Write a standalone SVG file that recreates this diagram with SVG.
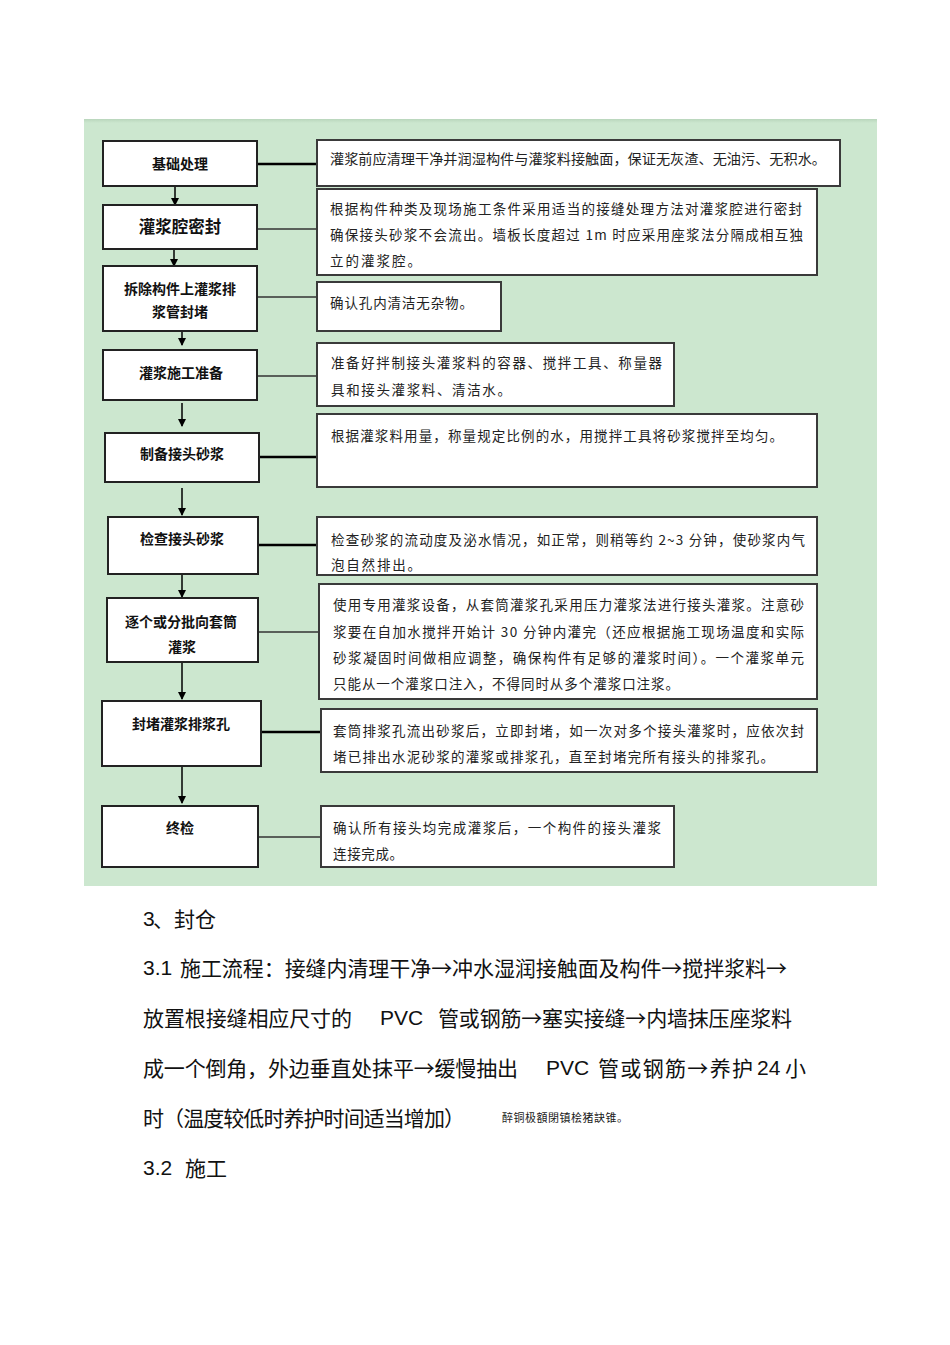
<svg xmlns="http://www.w3.org/2000/svg" width="950" height="1345" viewBox="0 0 950 1345">
<defs>
<marker id="ah" markerWidth="8" markerHeight="8" refX="7" refY="4" orient="auto" markerUnits="userSpaceOnUse">
<path d="M0,0 L8,4 L0,8 Z" fill="#000"/>
</marker>
<linearGradient id="topband" x1="0" y1="0" x2="0" y2="1">
<stop offset="0" stop-color="#b9d6bc"/>
<stop offset="1" stop-color="#cce7cf"/>
</linearGradient>
<style>
.lb{fill:#fff;stroke:#222;stroke-width:2}
.rb{fill:#fff;stroke:#3a3a3a;stroke-width:2}
.lt{font-family:"Noto Sans CJK SC","Noto Sans",sans-serif;font-weight:bold;font-size:14px;fill:#111;text-anchor:middle;dominant-baseline:central}
.rt{font-family:"Noto Sans CJK SC","Noto Sans",sans-serif;font-size:13.5px;fill:#222;dominant-baseline:central}
.thick{stroke:#000;stroke-width:2.5;fill:none}
.thin{stroke:#333;stroke-width:1.3;fill:none}
.arr{stroke:#000;stroke-width:1.5;fill:none;marker-end:url(#ah)}
.bc{font-family:"Noto Sans CJK SC",sans-serif;font-size:21px;fill:#111;dominant-baseline:central}
.bl{font-family:"Liberation Sans","Noto Sans",sans-serif;font-size:21px;fill:#111;dominant-baseline:central}
.sm{font-family:"Noto Sans CJK SC",sans-serif;font-size:11px;fill:#1a1a1a;dominant-baseline:central}
</style>
</defs>
<rect x="84" y="119" width="793" height="767" fill="#cce7cf"/>
<rect x="84" y="119" width="793" height="4" fill="url(#topband)"/>

<g id="connectors">
<line class="thick" x1="257" y1="164" x2="317" y2="164"/>
<line class="thin" x1="257" y1="229" x2="317" y2="229"/>
<line class="thin" x1="257" y1="297" x2="317" y2="297"/>
<line class="thin" x1="257" y1="376" x2="317" y2="376"/>
<line class="thick" x1="259" y1="457" x2="317" y2="457"/>
<line class="thick" x1="258" y1="545" x2="317" y2="545"/>
<line class="thin" x1="258" y1="632" x2="319" y2="632"/>
<line class="thick" x1="261" y1="732" x2="321" y2="732"/>
<line class="thin" x1="258" y1="837" x2="321" y2="837"/>
<line class="arr" x1="175" y1="186" x2="175" y2="205"/>
<line class="arr" x1="174" y1="249" x2="174" y2="266"/>
<line class="arr" x1="182" y1="331" x2="182" y2="345"/>
<line class="arr" x1="182" y1="403" x2="182" y2="426"/>
<line class="arr" x1="182" y1="488" x2="182" y2="515"/>
<line class="arr" x1="182" y1="574" x2="182" y2="597"/>
<line class="arr" x1="182" y1="662" x2="182" y2="699"/>
<line class="arr" x1="182" y1="766" x2="182" y2="803"/>
</g>

<g id="n1"><rect class="lb" x="103" y="141" width="154" height="45"/><text class="lt" x="180" y="163">基础处理</text></g>
<g id="n2"><rect class="lb" x="103" y="205" width="154" height="44"/><text class="lt" x="180" y="226" style="font-size:16.5px">灌浆腔密封</text></g>
<g id="n3"><rect class="lb" x="103" y="266" width="154" height="65"/><text class="lt" x="180" y="288">拆除构件上灌浆排</text><text class="lt" x="180" y="311">浆管封堵</text></g>
<g id="n4"><rect class="lb" x="103" y="350" width="154" height="50"/><text class="lt" x="181" y="372">灌浆施工准备</text></g>
<g id="n5"><rect class="lb" x="105" y="433" width="154" height="49"/><text class="lt" x="182" y="453">制备接头砂浆</text></g>
<g id="n6"><rect class="lb" x="108" y="517" width="150" height="57"/><text class="lt" x="182" y="538">检查接头砂浆</text></g>
<g id="n7"><rect class="lb" x="107" y="598" width="151" height="64"/><text class="lt" x="181" y="621">逐个或分批向套筒</text><text class="lt" x="182" y="646">灌浆</text></g>
<g id="n8"><rect class="lb" x="102" y="701" width="159" height="65"/><text class="lt" x="181" y="723">封堵灌浆排浆孔</text></g>
<g id="n9"><rect class="lb" x="102" y="806" width="156" height="61"/><text class="lt" x="180" y="827">终检</text></g>

<g id="r1"><rect class="rb" x="317" y="140" width="523" height="46"/>
<text class="rt" x="330" y="158" textLength="496" lengthAdjust="spacingAndGlyphs">灌浆前应清理干净并润湿构件与灌浆料接触面，保证无灰渣、无油污、无积水。</text></g>
<g id="r2"><rect class="rb" x="317" y="189" width="500" height="86"/>
<text class="rt" x="330" y="208" textLength="472">根据构件种类及现场施工条件采用适当的接缝处理方法对灌浆腔进行密封</text>
<text class="rt" x="330" y="234" textLength="473">确保接头砂浆不会流出。墙板长度超过 1m 时应采用座浆法分隔成相互独</text>
<text class="rt" x="330" y="260" textLength="91">立的灌浆腔。</text></g>
<g id="r3"><rect class="rb" x="317" y="282" width="184" height="49"/>
<text class="rt" x="330" y="302" textLength="143">确认孔内清洁无杂物。</text></g>
<g id="r4"><rect class="rb" x="317" y="343" width="357" height="63"/>
<text class="rt" x="331" y="362" textLength="331">准备好拌制接头灌浆料的容器、搅拌工具、称量器</text>
<text class="rt" x="331" y="389" textLength="180">具和接头灌浆料、清洁水。</text></g>
<g id="r5"><rect class="rb" x="317" y="414" width="500" height="73"/>
<text class="rt" x="331" y="435" textLength="452">根据灌浆料用量，称量规定比例的水，用搅拌工具将砂浆搅拌至均匀。</text></g>
<g id="r6"><rect class="rb" x="317" y="517" width="500" height="58"/>
<text class="rt" x="331" y="539" textLength="474">检查砂浆的流动度及泌水情况，如正常，则稍等约 2~3 分钟，使砂浆内气</text>
<text class="rt" x="331" y="564" textLength="90">泡自然排出。</text></g>
<g id="r7"><rect class="rb" x="319" y="584" width="498" height="115"/>
<text class="rt" x="333" y="604" textLength="471">使用专用灌浆设备，从套筒灌浆孔采用压力灌浆法进行接头灌浆。注意砂</text>
<text class="rt" x="333" y="631" textLength="471">浆要在自加水搅拌开始计 30 分钟内灌完（还应根据施工现场温度和实际</text>
<text class="rt" x="333" y="657" textLength="471">砂浆凝固时间做相应调整，确保构件有足够的灌浆时间）。一个灌浆单元</text>
<text class="rt" x="333" y="683" textLength="346">只能从一个灌浆口注入，不得同时从多个灌浆口注浆。</text></g>
<g id="r8"><rect class="rb" x="321" y="709" width="496" height="63"/>
<text class="rt" x="333" y="730" textLength="471">套筒排浆孔流出砂浆后，立即封堵，如一次对多个接头灌浆时，应依次封</text>
<text class="rt" x="333" y="756" textLength="441">堵已排出水泥砂浆的灌浆或排浆孔，直至封堵完所有接头的排浆孔。</text></g>
<g id="r9"><rect class="rb" x="321" y="806" width="353" height="61"/>
<text class="rt" x="333" y="827" textLength="328">确认所有接头均完成灌浆后，一个构件的接头灌浆</text>
<text class="rt" x="333" y="853" textLength="70">连接完成。</text></g>

<g id="body">
<text class="bl" x="143" y="918">3</text>
<text class="bc" x="153" y="918" textLength="63">、封仓</text>
<text class="bl" x="143" y="967">3.1</text>
<text class="bc" x="180" y="967" textLength="607">施工流程：接缝内清理干净→冲水湿润接触面及构件→搅拌浆料→</text>
<text class="bc" x="143" y="1017" textLength="209">放置根接缝相应尺寸的</text>
<text class="bl" x="380" y="1017">PVC</text>
<text class="bc" x="438" y="1017" textLength="354">管或钢筋→塞实接缝→内墙抹压座浆料</text>
<text class="bc" x="143" y="1067" textLength="375">成一个倒角，外边垂直处抹平→缓慢抽出</text>
<text class="bl" x="546" y="1067">PVC</text>
<text class="bc" x="598" y="1067" textLength="155">管或钢筋→养护</text>
<text class="bl" x="757" y="1067">24</text>
<text class="bc" x="785" y="1067">小</text>
<text class="bc" x="143" y="1117" textLength="322">时（温度较低时养护时间适当增加）</text>
<text class="sm" x="502" y="1117" textLength="126">醉铜极額閉镇桧猪訣锥。</text>
<text class="bl" x="143" y="1167">3.2</text>
<text class="bc" x="185" y="1167">施工</text>
</g>
</svg>
